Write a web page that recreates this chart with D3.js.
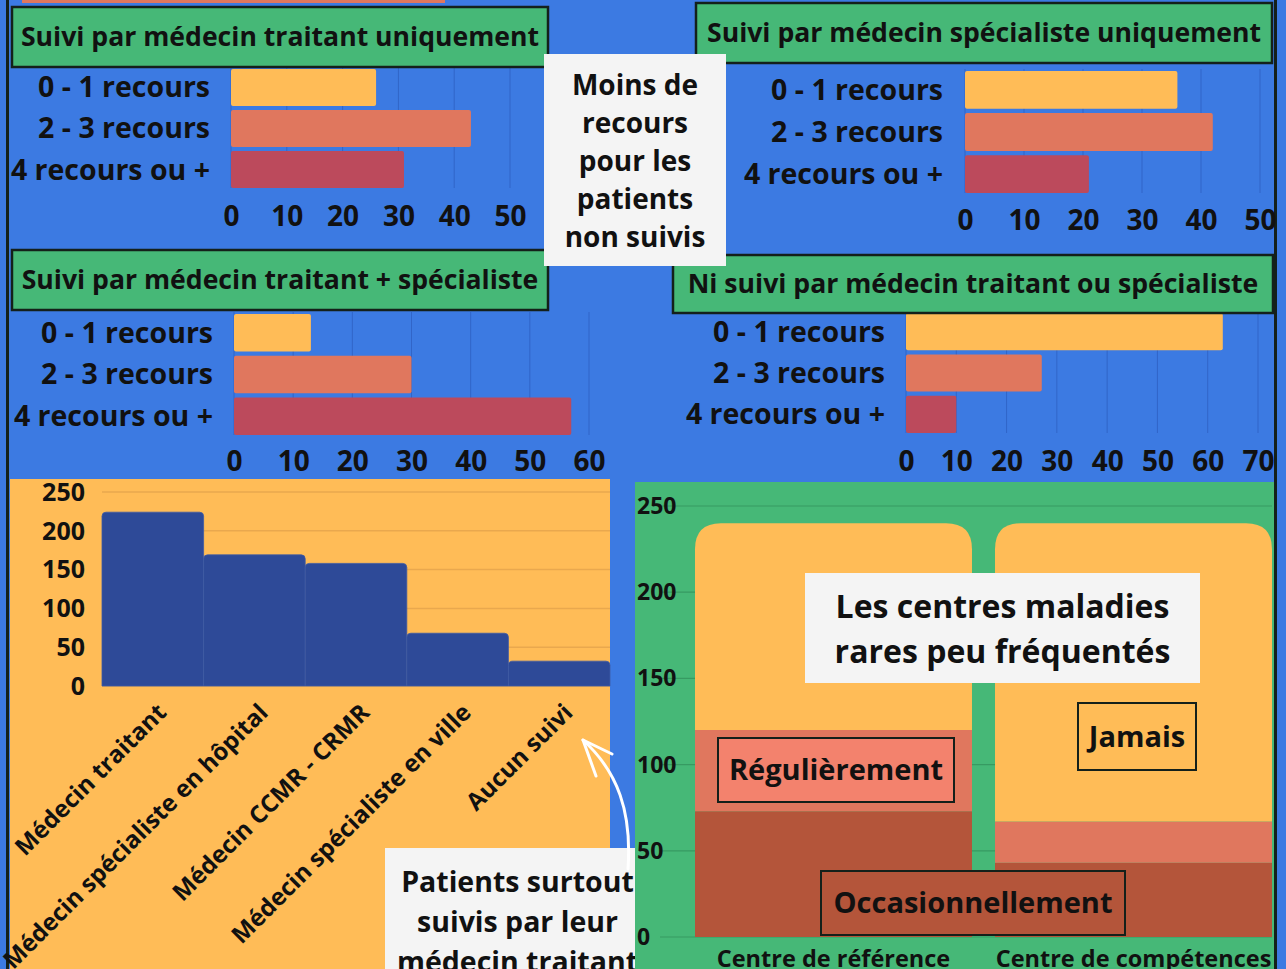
<!DOCTYPE html>
<html>
<head>
<meta charset="utf-8">
<script src="https://cdn.jsdelivr.net/npm/d3@7"></script>
<style>
  body { margin: 0; background: #3c7ae2; }
  svg { display: block; font-family: "Open Sans", sans-serif; font-weight: 700; }
  text { fill: #111; }
</style>
</head>
<body>
<svg id="chart" width="1286" height="969"></svg>
<script>
/* data */
var recoursCats = ["0 - 1 recours", "2 - 3 recours", "4 recours ou +"];
var traitantSeul = [26, 43, 31];
var specialisteSeul = [36, 42, 21];
var traitantSpecialiste = [13, 30, 57];
var niTraitantNiSpecialiste = [63, 27, 10];

var suiviCats = ["Médecin traitant", "Médecin spécialiste en hôpital", "Médecin CCMR - CRMR", "Médecin spécialiste en ville", "Aucun suivi"];
var suiviValues = [224, 169, 158, 68, 32];

var centres = ["Centre de référence", "Centre de compétences"];
var frequences = ["Occasionnellement", "Régulièrement", "Jamais"];
var occasionnellement = [73, 43];
var regulierement = [47, 24];
var jamais = [120, 173];

var blue = "#3c7ae2", gridBlue = "#3165c8", green = "#46b877", orange = "#ffbc57",
    salmon = "#e0775e", red = "#bc4a5c", navy = "#2e4a98", brown = "#b4553a",
    paper = "#f4f4f4", ink = "#14201a";
var recoursColors = [orange, salmon, red];

var svg = d3.select("#chart");

/* thin strip of an element cut at the top, and page borders */
svg.append("rect").attr("x", 22).attr("y", 0).attr("width", 423).attr("height", 3).attr("fill", salmon);
svg.append("rect").attr("x", 6).attr("y", 0).attr("width", 3).attr("height", 969).attr("fill", ink);
svg.append("rect").attr("x", 1274).attr("y", 0).attr("width", 3).attr("height", 969).attr("fill", ink);

function titleBox(x, y, w, h, label, size) {
  svg.append("rect").attr("x", x).attr("y", y).attr("width", w).attr("height", h)
    .attr("fill", green).attr("stroke", ink).attr("stroke-width", 2.5);
  svg.append("text").attr("x", x + w / 2).attr("y", y + h / 2).attr("dy", "0.35em")
    .attr("text-anchor", "middle").style("font-size", size + "px").text(label);
}

/* horizontal bar panels */
function recoursPanel(p) {
  var x = d3.scaleLinear().domain([0, p.max]).range(p.xr);
  var y = d3.scaleBand().domain(recoursCats).range(p.yr).paddingInner(0.1);
  var g = svg.append("g");

  g.selectAll(".grid").data(x.ticks(p.max / 10)).enter().append("line")
    .attr("x1", x).attr("x2", x)
    .attr("y1", p.yr[0] - 2).attr("y2", p.yr[1])
    .attr("stroke", gridBlue).attr("stroke-width", 1);

  g.selectAll(".bar").data(p.values).enter().append("rect")
    .attr("x", x(0))
    .attr("y", function(d, i) { return y(recoursCats[i]); })
    .attr("width", function(d) { return x(d) - x(0); })
    .attr("height", y.bandwidth())
    .attr("rx", 2)
    .attr("fill", function(d, i) { return recoursColors[i]; });

  g.selectAll(".cat").data(recoursCats).enter().append("text")
    .attr("x", p.labelX)
    .attr("y", function(d) { return y(d) + y.bandwidth() / 2; })
    .attr("dy", "0.35em").attr("text-anchor", "end")
    .style("font-size", "28.5px").text(function(d) { return d; });

  var ax = g.append("g").attr("transform", "translate(0," + p.tickY + ")")
    .call(d3.axisBottom(x).ticks(p.max / 10).tickSize(0));
  ax.select(".domain").remove();
  ax.selectAll("text").attr("y", 0).attr("dy", "0.35em")
    .style("font-size", "28px").style("font-family", "'Open Sans', sans-serif")
    .style("font-weight", 700).attr("fill", "#111");

  titleBox(p.box[0], p.box[1], p.box[2], p.box[3], p.title, 26.6);
}

recoursPanel({ title: "Suivi par médecin traitant uniquement", values: traitantSeul, max: 50,
  xr: [231, 510], yr: [69, 188], labelX: 210, tickY: 216, box: [12, 7, 536, 60] });
recoursPanel({ title: "Suivi par médecin spécialiste uniquement", values: specialisteSeul, max: 50,
  xr: [965, 1260], yr: [71, 193], labelX: 943, tickY: 220, box: [696, 3, 576, 60] });
recoursPanel({ title: "Suivi par médecin traitant + spécialiste", values: traitantSpecialiste, max: 60,
  xr: [234, 589], yr: [314, 435], labelX: 213, tickY: 461, box: [12, 250, 536, 60] });
recoursPanel({ title: "Ni suivi par médecin traitant ou spécialiste", values: niTraitantNiSpecialiste, max: 70,
  xr: [906, 1258], yr: [313, 433], labelX: 885, tickY: 461, box: [673, 255, 600, 58] });

function noteBox(x, y, w, h, lines, size, lineH, top) {
  svg.append("rect").attr("x", x).attr("y", y).attr("width", w).attr("height", h).attr("fill", paper);
  svg.append("g").selectAll("text").data(lines).enter().append("text")
    .attr("x", x + w / 2).attr("y", function(d, i) { return top + i * lineH; })
    .attr("dy", "0.35em").attr("text-anchor", "middle")
    .style("font-size", size + "px").text(function(d) { return d; });
}

noteBox(544, 54, 182, 212, ["Moins de", "recours", "pour les", "patients", "non suivis"], 28, 38, 85);

/* bottom left: who follows the patients */
function topRounded(x, y, w, h, r) {
  r = Math.min(r, h, w / 2);
  return "M" + x + "," + (y + h) + "V" + (y + r) + "Q" + x + "," + y + " " + (x + r) + "," + y +
    "H" + (x + w - r) + "Q" + (x + w) + "," + y + " " + (x + w) + "," + (y + r) + "V" + (y + h) + "Z";
}

svg.append("rect").attr("x", 10).attr("y", 479).attr("width", 600).attr("height", 490).attr("fill", orange);

var xs = d3.scaleBand().domain(suiviCats).range([102, 610]).padding(0);
var ys = d3.scaleLinear().domain([0, 250]).range([686, 492]);
var gs = svg.append("g");

gs.selectAll(".grid").data(ys.ticks(5)).enter().append("line")
  .attr("x1", 102).attr("x2", 610).attr("y1", ys).attr("y2", ys)
  .attr("stroke", "#e9a84e").attr("stroke-width", 1.5);

gs.selectAll(".bar").data(suiviValues).enter().append("path")
  .attr("d", function(d, i) { return topRounded(xs(suiviCats[i]), ys(d), xs.bandwidth(), ys(0) - ys(d), 4); })
  .attr("fill", navy).attr("stroke", "#3e5aa6").attr("stroke-width", 0.8);

gs.selectAll(".yt").data(ys.ticks(5)).enter().append("text")
  .attr("x", 85).attr("y", ys).attr("dy", "0.35em").attr("text-anchor", "end")
  .style("font-size", "25px").text(function(d) { return d; });

gs.selectAll(".xl").data(suiviCats).enter().append("text")
  .attr("transform", function(d) { return "translate(" + (xs(d) + xs.bandwidth() / 2 + 15) + ",714) rotate(-45)"; })
  .attr("text-anchor", "end").style("font-size", "24px").text(function(d) { return d; });

noteBox(385, 848, 265, 130, ["Patients surtout", "suivis par leur", "médecin traitant"], 28.5, 40, 882);

svg.append("path").attr("d", "M628,869 C632,812 618,772 583,740")
  .attr("fill", "none").attr("stroke", "#fff").attr("stroke-width", 3).attr("stroke-linecap", "round");
svg.append("path").attr("d", "M612,754 L583,740 L596,776")
  .attr("fill", "none").attr("stroke", "#fff").attr("stroke-width", 3)
  .attr("stroke-linecap", "round").attr("stroke-linejoin", "round");

/* bottom right: attendance of rare disease centres */
svg.append("rect").attr("x", 635).attr("y", 482).attr("width", 639).attr("height", 487).attr("fill", green);

var xc = d3.scaleBand().domain(centres).range([695, 1272]).paddingInner(0.0767).paddingOuter(0);
var yc = d3.scaleLinear().domain([0, 250]).range([937, 506]);
var table = centres.map(function(c, i) {
  return { centre: c, "Occasionnellement": occasionnellement[i], "Régulièrement": regulierement[i], "Jamais": jamais[i] };
});
var stacked = d3.stack().keys(frequences)(table);
var freqColors = { "Occasionnellement": brown, "Régulièrement": salmon, "Jamais": orange };
var gc = svg.append("g");

gc.selectAll(".grid").data(yc.ticks(5)).enter().append("line")
  .attr("x1", 660).attr("x2", 1272).attr("y1", yc).attr("y2", yc)
  .attr("stroke", "#379a62").attr("stroke-width", 1.2);

stacked.forEach(function(layer, li) {
  gc.selectAll(".s" + li).data(layer).enter().append("path")
    .attr("d", function(d) {
      var x0 = xc(d.data.centre), w = xc.bandwidth(), y0 = yc(d[1]), h = yc(d[0]) - yc(d[1]);
      return topRounded(x0, y0, w, h, li === stacked.length - 1 ? 26 : 0);
    })
    .attr("fill", freqColors[layer.key]);
});

gc.selectAll(".yt").data(yc.ticks(5)).enter().append("text")
  .attr("x", 637).attr("y", yc).attr("dy", "0.35em").attr("text-anchor", "start")
  .style("font-size", "23px").text(function(d) { return d; });

gc.selectAll(".xl").data(centres).enter().append("text")
  .attr("x", function(d) { return xc(d) + xc.bandwidth() / 2; }).attr("y", 959).attr("dy", "0.35em")
  .attr("text-anchor", "middle").style("font-size", "23.5px").text(function(d) { return d; });

function legendBox(x, y, w, h, fill, label) {
  svg.append("rect").attr("x", x).attr("y", y).attr("width", w).attr("height", h)
    .attr("fill", fill).attr("stroke", ink).attr("stroke-width", 2);
  svg.append("text").attr("x", x + w / 2).attr("y", y + h / 2).attr("dy", "0.35em")
    .attr("text-anchor", "middle").style("font-size", "29px").text(label);
}
legendBox(718, 738, 236, 64, "#f3826d", frequences[1]);
legendBox(1078, 703, 118, 67, orange, frequences[2]);
legendBox(821, 871, 304, 64, brown, frequences[0]);

noteBox(805, 573, 395, 110, ["Les centres maladies", "rares peu fréquentés"], 32, 45, 607);
</script>
</body>
</html>
